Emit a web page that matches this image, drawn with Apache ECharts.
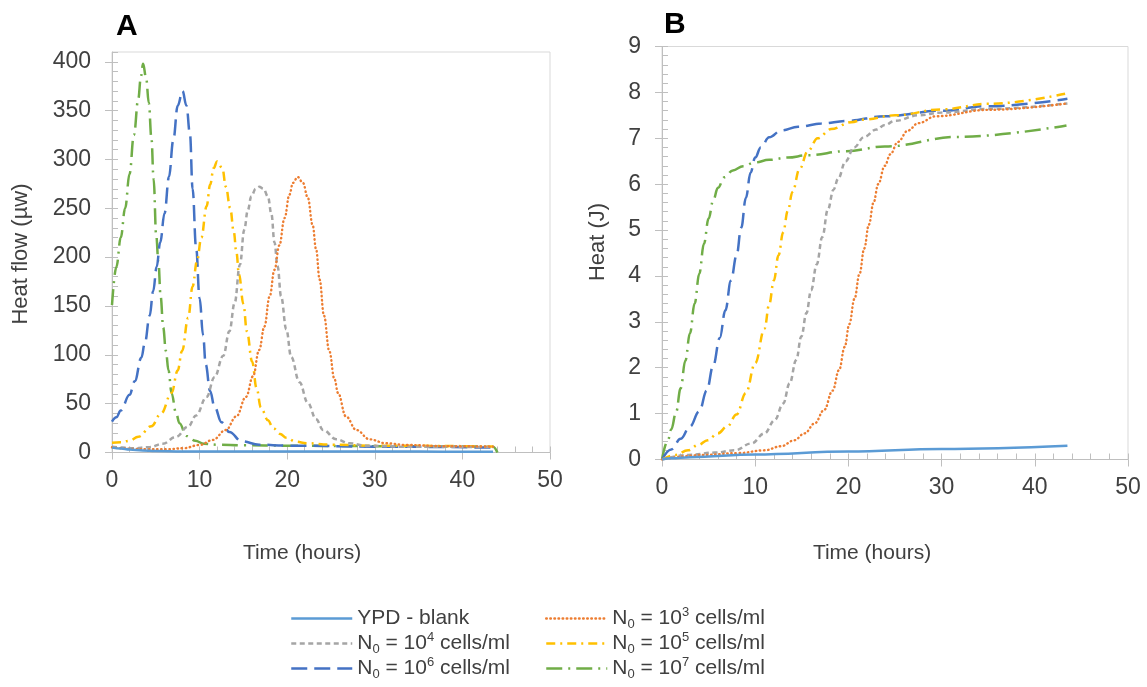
<!DOCTYPE html>
<html><head><meta charset="utf-8">
<script src="https://cdn.jsdelivr.net/npm/echarts@6/dist/echarts.min.js"></script>
<style>html,body{margin:0;padding:0;background:#fff}#c{width:1147px;height:687px}</style>
</head><body><div id="c"></div><script>
// ---- data (time in hours) ----
const seriesNames = ['YPD - blank', 'N₀ = 10³ cells/ml', 'N₀ = 10⁴ cells/ml', 'N₀ = 10⁵ cells/ml', 'N₀ = 10⁶ cells/ml', 'N₀ = 10⁷ cells/ml'];
const xTicks = [0, 10, 20, 30, 40, 50];
const yTicksA = [0, 50, 100, 150, 200, 250, 300, 350, 400];
const yTicksB = [0, 1, 2, 3, 4, 5, 6, 7, 8, 9];

// Panel A: heat flow (µW)
const flowBlank = [[0,5],[1,4],[2,3],[3.5,2],[5,1.5],[8,1.1],[15,1],[25,0.9],[35,0.9],[43.5,0.8]];
const flow1e3 = [[0,5.3],[1.2,4.3],[2.4,3.7],[4,3.3],[6.2,3.3],[8.1,4.3],[10,7.7],[11.5,12.8],[13,23],[14.2,37],[15.3,57],[16.1,78],[16.8,105],[17.4,129],[18,160],[18.55,187],[19.1,212],[19.7,240],[20.26,264],[20.65,276],[21.2,282],[21.8,276],[22.35,261],[22.9,233],[23.3,208],[23.7,177],[24.2,140],[24.8,104],[25.4,75],[25.8,61],[26.7,37],[27.9,23],[29.4,13.5],[31.3,9.4],[33.6,7.7],[38,6.5],[43.5,6]];
const flow1e4 = [[0,6],[1.2,5],[2.4,4.3],[4.3,5.5],[5.8,9],[7.3,16],[8.7,26.5],[9.6,38],[10.8,57],[11.7,77],[12.7,99],[13.4,124],[14,153],[14.6,192],[15.1,228],[15.5,248],[15.9,262],[16.4,270],[16.8,272],[17.3,270],[17.8,262],[18.2,244],[18.55,215],[18.9,191],[19.3,160],[19.9,126],[20.45,98],[21.4,72],[22.35,51],[23.3,34],[24.1,23],[25.6,13.5],[27.1,9.4],[29,7],[33,6],[43.5,5.5]];
const flow1e5 = [[0,10],[1,10.5],[2,12],[3,16],[4.5,27],[5.6,40],[6.8,61],[7.5,84],[8,104],[8.7,138],[9.2,170],[9.7,196],[10.2,220],[10.8,252],[11.2,274],[11.6,291],[12,298],[12.6,291],[13,272],[13.5,250],[13.9,226],[14.2,205],[14.5,182],[15,152],[15.4,124],[16,93],[16.5,66],[17,46],[17.8,33],[18.4,25],[19.2,19],[19.9,15],[21,11],[22.2,9.5],[25,8],[30,7],[43.5,6.2]];
const flow1e6 = [[0,31.6],[0.5,36],[1,43],[2,59],[2.6,73],[3.35,97],[3.75,112],[4.3,140],[4.7,165],[5.1,190],[5.5,215],[6,245],[6.5,282],[7,320],[7.5,355],[8.05,370],[8.5,355],[8.9,326],[9.2,270],[9.6,210],[10,158],[10.4,120],[10.7,90],[11.2,63],[11.7,47],[12.5,31],[13.4,21],[14.8,11.5],[16.8,8],[20,7],[30,6],[43.5,5]];
const flow1e7 = [[0,151],[0.5,190],[1,220],[1.5,250],[2,285],[2.5,325],[3,362],[3.3,385],[3.55,398],[3.9,383],[4.2,358],[4.5,322],[4.75,280],[5.05,222],[5.3,195],[5.55,160],[5.85,128],[6.15,104],[6.45,84],[6.8,61],[7.3,41],[7.7,30],[8.5,17],[9.5,12],[10.5,9],[12,8],[15,7.5],[20,7],[30,6.5],[43.5,6],[44,0]];

// Panel B: heat (J)
const heatBlank = [[0,0],[1,0.025],[3,0.05],[10,0.11],[20,0.175],[30,0.23],[43.5,0.3]];
const heat1e3 = [[0,0],[4.6,0.1],[8.2,0.14],[11,0.2],[12.8,0.29],[14.2,0.42],[15.3,0.57],[16.4,0.79],[17.4,1.08],[18.3,1.5],[19,1.95],[19.6,2.45],[20.1,2.95],[20.65,3.5],[21.2,4.05],[21.7,4.6],[22.2,5.12],[22.7,5.6],[23.2,6.0],[23.9,6.4],[24.5,6.65],[25.3,6.92],[26.4,7.17],[27.5,7.33],[29.4,7.48],[35,7.62],[43.5,7.76]];
const heat1e4 = [[0,0],[2.8,0.1],[5.65,0.15],[7.8,0.2],[9.6,0.35],[11,0.57],[12.1,0.86],[13,1.22],[13.7,1.66],[14.4,2.17],[14.95,2.68],[15.5,3.19],[16,3.69],[16.6,4.25],[17.2,4.85],[17.8,5.45],[18.4,5.88],[18.9,6.12],[19.7,6.5],[20.6,6.8],[21.7,7.03],[23,7.19],[23.9,7.29],[25,7.38],[27.5,7.5],[30,7.56],[35,7.64],[43.5,7.76]];
const heat1e5 = [[0,0],[1.4,0.1],[2.8,0.2],[3.9,0.32],[4.9,0.42],[6,0.57],[7,0.72],[8,0.98],[9,1.45],[10,2.1],[11,2.85],[11.5,3.38],[12,3.9],[12.5,4.45],[13,4.95],[13.5,5.42],[14,5.83],[14.76,6.33],[15.65,6.72],[16.7,7.0],[18.15,7.2],[20.3,7.35],[21.7,7.41],[25,7.5],[30,7.63],[35,7.75],[43.5,7.98]];
const heat1e6 = [[0,0],[1,0.22],[2,0.45],[3,0.72],[4,1.05],[4.8,1.5],[5.5,2.05],[6.2,2.65],[6.8,3.25],[7.4,3.9],[8,4.45],[8.5,5.05],[9,5.7],[9.5,6.25],[10,6.58],[10.6,6.8],[11.5,7.02],[12.8,7.17],[14.6,7.25],[17.1,7.32],[19.8,7.38],[23.9,7.48],[30,7.6],[35,7.7],[43.5,7.86]];
const heat1e7 = [[0,0],[0.64,0.42],[1,0.66],[1.5,1.02],[2,1.55],[2.5,2.15],[3,2.75],[3.5,3.4],[4,4.05],[4.5,4.7],[5,5.25],[5.5,5.65],[6,5.92],[6.7,6.15],[7.6,6.3],[8.7,6.39],[9.9,6.47],[11.5,6.53],[13.5,6.58],[15.6,6.63],[19.8,6.72],[23.9,6.82],[31.7,7.03],[43.4,7.28]];

const flowData = [flowBlank, flow1e3, flow1e4, flow1e5, flow1e6, flow1e7];
const heatData = [heatBlank, heat1e3, heat1e4, heat1e5, heat1e6, heat1e7];

// ---- styles ----
const FONT = '"Liberation Sans", Arial, sans-serif';
const TXT = '#404040';
const AX = '#bfbfbf';
const colors = ['#5B9BD5', '#ED7D31', '#A5A5A5', '#FFC000', '#4472C4', '#70AD47'];
const dashes = ['solid', [0.5, 3.6], [5, 3.5], [9, 5, 2, 5], [16, 7], [16, 6, 2, 6]];
const caps = ['butt', 'round', 'butt', 'butt', 'butt', 'butt'];
const widths = [2.5, 2.4, 2.5, 2.5, 2.5, 2.5];

const chart = echarts.init(document.getElementById('c'), null, {renderer: 'canvas'});

function mainX(g) {
  return {gridIndex: g, type: 'value', position: 'bottom', min: 0, max: 50, interval: 10,
    axisLine: {lineStyle: {color: AX, width: 1}},
    axisTick: {show: true, length: 7, lineStyle: {color: AX}},
    axisLabel: {color: TXT, fontSize: 23, fontFamily: FONT, margin: 17,
      formatter: v => xTicks.indexOf(v) >= 0 ? String(v) : ''},
    splitLine: {show: false}};
}
function minorX(g) {
  return {gridIndex: g, type: 'value', position: 'bottom', min: 0, max: 50, interval: 2,
    axisLine: {show: false}, axisTick: {show: true, inside: true, length: 6, lineStyle: {color: AX}},
    axisLabel: {show: false}, splitLine: {show: false}};
}
function mainY(g, max, interval, ticks) {
  return {gridIndex: g, type: 'value', position: 'left', min: 0, max: max, interval: interval,
    axisLine: {show: true, lineStyle: {color: AX, width: 1}},
    axisTick: {show: true, length: 7, lineStyle: {color: AX}},
    axisLabel: {color: TXT, fontSize: 23, fontFamily: FONT, margin: 21, showMaxLabel: ticks.indexOf(max) >= 0,
      formatter: v => ticks.indexOf(v) >= 0 ? String(v) : ''},
    splitLine: {show: false}};
}
function minorY(g, max, interval) {
  return {gridIndex: g, type: 'value', position: 'left', min: 0, max: max, interval: interval,
    axisLine: {show: false}, axisTick: {show: true, inside: true, length: 6, lineStyle: {color: AX}},
    axisLabel: {show: false}, splitLine: {show: false}};
}

const series = [];
seriesNames.forEach((n, i) => {
  const common = {name: n, type: 'line', showSymbol: false, symbol: 'none', smooth: 0.4, smoothMonotone: 'x',
    lineStyle: {color: colors[i], width: widths[i], type: dashes[i], cap: caps[i]},
    itemStyle: {color: colors[i]}, z: 10 - i};
  series.push(Object.assign({}, common, {xAxisIndex: 0, yAxisIndex: 0, data: flowData[i]}));
  series.push(Object.assign({}, common, {xAxisIndex: 2, yAxisIndex: 2, data: heatData[i]}));
});

const supMap = {'³': '3', '⁴': '4', '⁵': '5', '⁶': '6', '⁷': '7'};
function legendFmt(name) {
  const m = name.match(/^N₀ = 10(.) cells\/ml$/);
  if (!m) return '{m|' + name + '}';
  return '{m|N}{sub|0}{m| = 10}{sup|' + supMap[m[1]] + '}{m| cells/ml}';
}
const legendText = {color: TXT, fontSize: 21, fontFamily: FONT, lineHeight: 25,
  rich: {
    m: {color: TXT, fontSize: 21, fontFamily: FONT, lineHeight: 25},
    sub: {color: TXT, fontSize: 13, fontFamily: FONT, lineHeight: 14, verticalAlign: 'bottom'},
    sup: {color: TXT, fontSize: 13, fontFamily: FONT, lineHeight: 18, verticalAlign: 'top'}
  }};
function legendCol(left, names) {
  return {left: left, top: 606, orient: 'vertical', itemWidth: 61, itemHeight: 12, itemGap: 0,
    selectedMode: false, data: names, formatter: legendFmt, textStyle: legendText, padding: 0,
    itemStyle: {opacity: 0}, lineStyle: {width: 2.5}};
}

const option = {
  animation: false,
  backgroundColor: '#ffffff',
  grid: [
    {left: 112, top: 52, width: 438, height: 400.5, show: true, borderColor: '#d9d9d9', borderWidth: 1, outerBoundsMode: 'none', containLabel: false},
    {left: 662, top: 46.5, width: 466, height: 413, show: true, borderColor: '#d9d9d9', borderWidth: 1, outerBoundsMode: 'none', containLabel: false}
  ],
  xAxis: [mainX(0), minorX(0), mainX(1), minorX(1)],
  yAxis: [mainY(0, 410, 50, yTicksA), minorY(0, 410, 10), mainY(1, 9, 1, yTicksB), minorY(1, 9, 0.2)],
  legend: [
    legendCol(290, [seriesNames[0], seriesNames[2], seriesNames[4]]),
    legendCol(545, [seriesNames[1], seriesNames[3], seriesNames[5]])
  ],
  graphic: [
    {type: 'text', left: 116, top: 12, style: {text: 'A', font: 'bold 30px ' + FONT, fill: '#000'}},
    {type: 'text', left: 664, top: 10, style: {text: 'B', font: 'bold 30px ' + FONT, fill: '#000'}},
    {type: 'text', x: 21, y: 254, rotation: Math.PI / 2, style: {text: 'Heat flow (µw)', font: '22px ' + FONT, fill: TXT, align: 'center', verticalAlign: 'middle'}},
    {type: 'text', x: 598, y: 242, rotation: Math.PI / 2, style: {text: 'Heat (J)', font: '22px ' + FONT, fill: TXT, align: 'center', verticalAlign: 'middle'}},
    {type: 'text', x: 302, y: 553, style: {text: 'Time (hours)', font: '21px ' + FONT, fill: TXT, align: 'center', verticalAlign: 'middle'}},
    {type: 'text', x: 872, y: 553, style: {text: 'Time (hours)', font: '21px ' + FONT, fill: TXT, align: 'center', verticalAlign: 'middle'}}
  ],
  series: series
};
chart.setOption(option);
</script></body></html>
